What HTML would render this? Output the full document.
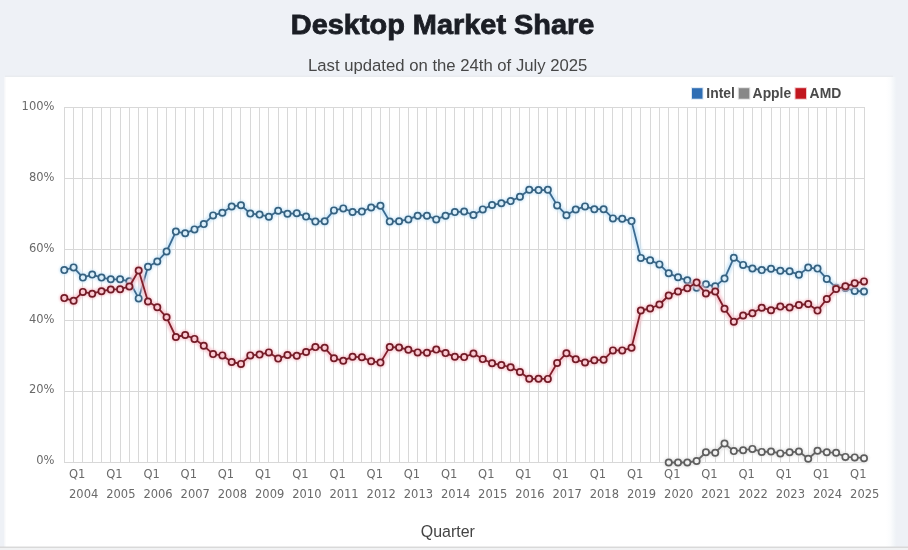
<!DOCTYPE html>
<html><head><meta charset="utf-8"><title>Desktop Market Share</title>
<style>
html,body{margin:0;padding:0;}
body{width:908px;height:550px;overflow:hidden;background:#eef1f6;position:relative;}
svg{position:absolute;left:0;top:0;}
</style></head><body>
<svg width="908" height="550" viewBox="0 0 908 550">
<defs><linearGradient id="rg" x1="0" x2="1" y1="0" y2="0"><stop offset="0" stop-color="#ffffff"/><stop offset="0.45" stop-color="#fbfcfd"/><stop offset="1" stop-color="#eef2f6"/></linearGradient><filter id="gl" x="-5%" y="-5%" width="110%" height="110%"><feGaussianBlur stdDeviation="1.3"/></filter></defs>
<rect x="0" y="0" width="908" height="550" fill="#eef1f6"/>
<rect x="0" y="546.5" width="908" height="3.5" fill="#f1f2f3"/>
<rect x="5" y="75.5" width="888" height="1.5" fill="#e9ecef"/>
<rect x="4" y="77" width="1" height="470" fill="#f6f7f9"/>
<rect x="5" y="77" width="1" height="470" fill="#fbfbfc"/>
<rect x="6" y="77" width="880" height="470" fill="#ffffff"/>
<rect x="886" y="77" width="10" height="470" fill="url(#rg)"/>
<rect x="0" y="546.6" width="908" height="1.2" fill="#d3d3d3"/>
<text x="290.8" y="33.8" textLength="303.6" lengthAdjust="spacingAndGlyphs" font-family="Liberation Sans, sans-serif" font-weight="bold" font-size="27" fill="#1b1e25" stroke="#1b1e25" stroke-width="0.8">Desktop Market Share</text>
<text x="447.7" y="71.2" text-anchor="middle" font-family="Liberation Sans, sans-serif" font-size="16.7" fill="#474747">Last updated on the 24th of July 2025</text>
<g stroke="#d8d8d8" stroke-width="1" shape-rendering="crispEdges"><line x1="64.5" y1="107" x2="64.5" y2="463"/><line x1="73.5" y1="107" x2="73.5" y2="463"/><line x1="82.5" y1="107" x2="82.5" y2="463"/><line x1="92.5" y1="107" x2="92.5" y2="463"/><line x1="101.5" y1="107" x2="101.5" y2="463"/><line x1="110.5" y1="107" x2="110.5" y2="463"/><line x1="120.5" y1="107" x2="120.5" y2="463"/><line x1="129.5" y1="107" x2="129.5" y2="463"/><line x1="138.5" y1="107" x2="138.5" y2="463"/><line x1="147.5" y1="107" x2="147.5" y2="463"/><line x1="157.5" y1="107" x2="157.5" y2="463"/><line x1="166.5" y1="107" x2="166.5" y2="463"/><line x1="175.5" y1="107" x2="175.5" y2="463"/><line x1="185.5" y1="107" x2="185.5" y2="463"/><line x1="194.5" y1="107" x2="194.5" y2="463"/><line x1="203.5" y1="107" x2="203.5" y2="463"/><line x1="213.5" y1="107" x2="213.5" y2="463"/><line x1="222.5" y1="107" x2="222.5" y2="463"/><line x1="231.5" y1="107" x2="231.5" y2="463"/><line x1="240.5" y1="107" x2="240.5" y2="463"/><line x1="250.5" y1="107" x2="250.5" y2="463"/><line x1="259.5" y1="107" x2="259.5" y2="463"/><line x1="268.5" y1="107" x2="268.5" y2="463"/><line x1="278.5" y1="107" x2="278.5" y2="463"/><line x1="287.5" y1="107" x2="287.5" y2="463"/><line x1="296.5" y1="107" x2="296.5" y2="463"/><line x1="306.5" y1="107" x2="306.5" y2="463"/><line x1="315.5" y1="107" x2="315.5" y2="463"/><line x1="324.5" y1="107" x2="324.5" y2="463"/><line x1="333.5" y1="107" x2="333.5" y2="463"/><line x1="343.5" y1="107" x2="343.5" y2="463"/><line x1="352.5" y1="107" x2="352.5" y2="463"/><line x1="361.5" y1="107" x2="361.5" y2="463"/><line x1="371.5" y1="107" x2="371.5" y2="463"/><line x1="380.5" y1="107" x2="380.5" y2="463"/><line x1="389.5" y1="107" x2="389.5" y2="463"/><line x1="399.5" y1="107" x2="399.5" y2="463"/><line x1="408.5" y1="107" x2="408.5" y2="463"/><line x1="417.5" y1="107" x2="417.5" y2="463"/><line x1="426.5" y1="107" x2="426.5" y2="463"/><line x1="436.5" y1="107" x2="436.5" y2="463"/><line x1="445.5" y1="107" x2="445.5" y2="463"/><line x1="454.5" y1="107" x2="454.5" y2="463"/><line x1="464.5" y1="107" x2="464.5" y2="463"/><line x1="473.5" y1="107" x2="473.5" y2="463"/><line x1="482.5" y1="107" x2="482.5" y2="463"/><line x1="492.5" y1="107" x2="492.5" y2="463"/><line x1="501.5" y1="107" x2="501.5" y2="463"/><line x1="510.5" y1="107" x2="510.5" y2="463"/><line x1="519.5" y1="107" x2="519.5" y2="463"/><line x1="529.5" y1="107" x2="529.5" y2="463"/><line x1="538.5" y1="107" x2="538.5" y2="463"/><line x1="547.5" y1="107" x2="547.5" y2="463"/><line x1="557.5" y1="107" x2="557.5" y2="463"/><line x1="566.5" y1="107" x2="566.5" y2="463"/><line x1="575.5" y1="107" x2="575.5" y2="463"/><line x1="585.5" y1="107" x2="585.5" y2="463"/><line x1="594.5" y1="107" x2="594.5" y2="463"/><line x1="603.5" y1="107" x2="603.5" y2="463"/><line x1="612.5" y1="107" x2="612.5" y2="463"/><line x1="622.5" y1="107" x2="622.5" y2="463"/><line x1="631.5" y1="107" x2="631.5" y2="463"/><line x1="640.5" y1="107" x2="640.5" y2="463"/><line x1="650.5" y1="107" x2="650.5" y2="463"/><line x1="659.5" y1="107" x2="659.5" y2="463"/><line x1="668.5" y1="107" x2="668.5" y2="463"/><line x1="678.5" y1="107" x2="678.5" y2="463"/><line x1="687.5" y1="107" x2="687.5" y2="463"/><line x1="696.5" y1="107" x2="696.5" y2="463"/><line x1="705.5" y1="107" x2="705.5" y2="463"/><line x1="715.5" y1="107" x2="715.5" y2="463"/><line x1="724.5" y1="107" x2="724.5" y2="463"/><line x1="733.5" y1="107" x2="733.5" y2="463"/><line x1="743.5" y1="107" x2="743.5" y2="463"/><line x1="752.5" y1="107" x2="752.5" y2="463"/><line x1="761.5" y1="107" x2="761.5" y2="463"/><line x1="771.5" y1="107" x2="771.5" y2="463"/><line x1="780.5" y1="107" x2="780.5" y2="463"/><line x1="789.5" y1="107" x2="789.5" y2="463"/><line x1="798.5" y1="107" x2="798.5" y2="463"/><line x1="808.5" y1="107" x2="808.5" y2="463"/><line x1="817.5" y1="107" x2="817.5" y2="463"/><line x1="826.5" y1="107" x2="826.5" y2="463"/><line x1="836.5" y1="107" x2="836.5" y2="463"/><line x1="845.5" y1="107" x2="845.5" y2="463"/><line x1="854.5" y1="107" x2="854.5" y2="463"/><line x1="864.5" y1="107" x2="864.5" y2="463"/><line x1="64" y1="462.5" x2="865" y2="462.5"/><line x1="64" y1="391.5" x2="865" y2="391.5"/><line x1="64" y1="320.5" x2="865" y2="320.5"/><line x1="64" y1="249.5" x2="865" y2="249.5"/><line x1="64" y1="178.5" x2="865" y2="178.5"/><line x1="64" y1="107.5" x2="865" y2="107.5"/></g>
<g font-family="DejaVu Sans, sans-serif" font-size="11.5" fill="#6a6a6a"><text x="54.5" y="464.4" text-anchor="end">0%</text><text x="54.5" y="393.4" text-anchor="end">20%</text><text x="54.5" y="322.5" text-anchor="end">40%</text><text x="54.5" y="251.5" text-anchor="end">60%</text><text x="54.5" y="180.6" text-anchor="end">80%</text><text x="54.5" y="109.6" text-anchor="end">100%</text></g>
<g font-family="DejaVu Sans, sans-serif" font-size="11.5" fill="#6a6a6a"><text x="69.0" y="477.5">Q1</text><text x="69.0" y="498">2004</text><text x="106.2" y="477.5">Q1</text><text x="106.2" y="498">2005</text><text x="143.4" y="477.5">Q1</text><text x="143.4" y="498">2006</text><text x="180.6" y="477.5">Q1</text><text x="180.6" y="498">2007</text><text x="217.8" y="477.5">Q1</text><text x="217.8" y="498">2008</text><text x="255.0" y="477.5">Q1</text><text x="255.0" y="498">2009</text><text x="292.2" y="477.5">Q1</text><text x="292.2" y="498">2010</text><text x="329.4" y="477.5">Q1</text><text x="329.4" y="498">2011</text><text x="366.6" y="477.5">Q1</text><text x="366.6" y="498">2012</text><text x="403.8" y="477.5">Q1</text><text x="403.8" y="498">2013</text><text x="441.0" y="477.5">Q1</text><text x="441.0" y="498">2014</text><text x="478.1" y="477.5">Q1</text><text x="478.1" y="498">2015</text><text x="515.3" y="477.5">Q1</text><text x="515.3" y="498">2016</text><text x="552.5" y="477.5">Q1</text><text x="552.5" y="498">2017</text><text x="589.7" y="477.5">Q1</text><text x="589.7" y="498">2018</text><text x="626.9" y="477.5">Q1</text><text x="626.9" y="498">2019</text><text x="664.1" y="477.5">Q1</text><text x="664.1" y="498">2020</text><text x="701.3" y="477.5">Q1</text><text x="701.3" y="498">2021</text><text x="738.5" y="477.5">Q1</text><text x="738.5" y="498">2022</text><text x="775.7" y="477.5">Q1</text><text x="775.7" y="498">2023</text><text x="812.9" y="477.5">Q1</text><text x="812.9" y="498">2024</text><text x="850.1" y="477.5">Q1</text><text x="850.1" y="498">2025</text></g>
<text x="447.8" y="536.5" text-anchor="middle" font-family="Liberation Sans, sans-serif" font-size="15.95" fill="#444">Quarter</text>
<g>
<g filter="url(#gl)" opacity="0.75"><polyline points="668.72,462.50 678.02,462.50 687.32,462.50 696.62,461.00 705.92,452.30 715.22,452.70 724.52,443.50 733.82,451.10 743.12,450.20 752.41,448.90 761.71,451.90 771.01,451.50 780.31,453.40 789.61,452.30 798.91,451.50 808.21,458.70 817.51,450.80 826.80,452.30 836.10,452.70 845.40,456.90 854.70,457.40 864.00,458.20" fill="none" stroke="#e2e2e2" stroke-width="6.5" stroke-linejoin="round" stroke-linecap="round"/><circle cx="668.72" cy="462.50" r="5.2" fill="#e2e2e2"/><circle cx="678.02" cy="462.50" r="5.2" fill="#e2e2e2"/><circle cx="687.32" cy="462.50" r="5.2" fill="#e2e2e2"/><circle cx="696.62" cy="461.00" r="5.2" fill="#e2e2e2"/><circle cx="705.92" cy="452.30" r="5.2" fill="#e2e2e2"/><circle cx="715.22" cy="452.70" r="5.2" fill="#e2e2e2"/><circle cx="724.52" cy="443.50" r="5.2" fill="#e2e2e2"/><circle cx="733.82" cy="451.10" r="5.2" fill="#e2e2e2"/><circle cx="743.12" cy="450.20" r="5.2" fill="#e2e2e2"/><circle cx="752.41" cy="448.90" r="5.2" fill="#e2e2e2"/><circle cx="761.71" cy="451.90" r="5.2" fill="#e2e2e2"/><circle cx="771.01" cy="451.50" r="5.2" fill="#e2e2e2"/><circle cx="780.31" cy="453.40" r="5.2" fill="#e2e2e2"/><circle cx="789.61" cy="452.30" r="5.2" fill="#e2e2e2"/><circle cx="798.91" cy="451.50" r="5.2" fill="#e2e2e2"/><circle cx="808.21" cy="458.70" r="5.2" fill="#e2e2e2"/><circle cx="817.51" cy="450.80" r="5.2" fill="#e2e2e2"/><circle cx="826.80" cy="452.30" r="5.2" fill="#e2e2e2"/><circle cx="836.10" cy="452.70" r="5.2" fill="#e2e2e2"/><circle cx="845.40" cy="456.90" r="5.2" fill="#e2e2e2"/><circle cx="854.70" cy="457.40" r="5.2" fill="#e2e2e2"/><circle cx="864.00" cy="458.20" r="5.2" fill="#e2e2e2"/></g>
<polyline points="668.72,462.50 678.02,462.50 687.32,462.50 696.62,461.00 705.92,452.30 715.22,452.70 724.52,443.50 733.82,451.10 743.12,450.20 752.41,448.90 761.71,451.90 771.01,451.50 780.31,453.40 789.61,452.30 798.91,451.50 808.21,458.70 817.51,450.80 826.80,452.30 836.10,452.70 845.40,456.90 854.70,457.40 864.00,458.20" fill="none" stroke="#666666" stroke-width="1.8" stroke-linejoin="round"/>
<circle cx="668.72" cy="462.50" r="3.15" fill="#f4f4f4" stroke="#5e5e5e" stroke-width="1.7"/><circle cx="678.02" cy="462.50" r="3.15" fill="#f4f4f4" stroke="#5e5e5e" stroke-width="1.7"/><circle cx="687.32" cy="462.50" r="3.15" fill="#f4f4f4" stroke="#5e5e5e" stroke-width="1.7"/><circle cx="696.62" cy="461.00" r="3.15" fill="#f4f4f4" stroke="#5e5e5e" stroke-width="1.7"/><circle cx="705.92" cy="452.30" r="3.15" fill="#f4f4f4" stroke="#5e5e5e" stroke-width="1.7"/><circle cx="715.22" cy="452.70" r="3.15" fill="#f4f4f4" stroke="#5e5e5e" stroke-width="1.7"/><circle cx="724.52" cy="443.50" r="3.15" fill="#f4f4f4" stroke="#5e5e5e" stroke-width="1.7"/><circle cx="733.82" cy="451.10" r="3.15" fill="#f4f4f4" stroke="#5e5e5e" stroke-width="1.7"/><circle cx="743.12" cy="450.20" r="3.15" fill="#f4f4f4" stroke="#5e5e5e" stroke-width="1.7"/><circle cx="752.41" cy="448.90" r="3.15" fill="#f4f4f4" stroke="#5e5e5e" stroke-width="1.7"/><circle cx="761.71" cy="451.90" r="3.15" fill="#f4f4f4" stroke="#5e5e5e" stroke-width="1.7"/><circle cx="771.01" cy="451.50" r="3.15" fill="#f4f4f4" stroke="#5e5e5e" stroke-width="1.7"/><circle cx="780.31" cy="453.40" r="3.15" fill="#f4f4f4" stroke="#5e5e5e" stroke-width="1.7"/><circle cx="789.61" cy="452.30" r="3.15" fill="#f4f4f4" stroke="#5e5e5e" stroke-width="1.7"/><circle cx="798.91" cy="451.50" r="3.15" fill="#f4f4f4" stroke="#5e5e5e" stroke-width="1.7"/><circle cx="808.21" cy="458.70" r="3.15" fill="#f4f4f4" stroke="#5e5e5e" stroke-width="1.7"/><circle cx="817.51" cy="450.80" r="3.15" fill="#f4f4f4" stroke="#5e5e5e" stroke-width="1.7"/><circle cx="826.80" cy="452.30" r="3.15" fill="#f4f4f4" stroke="#5e5e5e" stroke-width="1.7"/><circle cx="836.10" cy="452.70" r="3.15" fill="#f4f4f4" stroke="#5e5e5e" stroke-width="1.7"/><circle cx="845.40" cy="456.90" r="3.15" fill="#f4f4f4" stroke="#5e5e5e" stroke-width="1.7"/><circle cx="854.70" cy="457.40" r="3.15" fill="#f4f4f4" stroke="#5e5e5e" stroke-width="1.7"/><circle cx="864.00" cy="458.20" r="3.15" fill="#f4f4f4" stroke="#5e5e5e" stroke-width="1.7"/>

<g filter="url(#gl)" opacity="0.75"><polyline points="64.30,270.10 73.60,267.40 82.90,277.60 92.20,274.60 101.50,277.60 110.79,279.30 120.09,279.30 129.39,281.30 138.69,298.40 147.99,266.80 157.29,261.50 166.59,251.50 175.89,231.60 185.18,233.30 194.48,229.40 203.78,224.10 213.08,215.40 222.38,212.70 231.68,206.50 240.98,205.20 250.28,213.60 259.58,214.60 268.87,216.70 278.17,210.70 287.47,213.70 296.77,213.30 306.07,216.60 315.37,221.60 324.67,221.20 333.97,210.40 343.27,208.40 352.56,212.00 361.86,211.60 371.16,207.50 380.46,205.80 389.76,221.60 399.06,221.20 408.36,219.40 417.66,215.70 426.95,215.70 436.25,219.40 445.55,215.70 454.85,212.10 464.15,211.50 473.45,215.00 482.75,209.40 492.05,205.00 501.35,203.30 510.64,201.10 519.94,196.70 529.24,189.80 538.54,190.10 547.84,189.80 557.14,205.40 566.44,215.20 575.74,209.50 585.03,206.40 594.33,209.20 603.63,209.20 612.93,218.40 622.23,218.80 631.53,221.10 640.83,257.90 650.13,260.20 659.43,264.40 668.72,273.30 678.02,277.30 687.32,280.30 696.62,287.80 705.92,284.30 715.22,286.30 724.52,278.60 733.82,257.80 743.12,264.90 752.41,268.50 761.71,270.10 771.01,268.80 780.31,270.80 789.61,271.30 798.91,274.70 808.21,267.60 817.51,268.60 826.80,278.90 836.10,287.70 845.40,287.90 854.70,291.00 864.00,291.50" fill="none" stroke="#c9e6f9" stroke-width="6.5" stroke-linejoin="round" stroke-linecap="round"/><circle cx="64.30" cy="270.10" r="5.2" fill="#c9e6f9"/><circle cx="73.60" cy="267.40" r="5.2" fill="#c9e6f9"/><circle cx="82.90" cy="277.60" r="5.2" fill="#c9e6f9"/><circle cx="92.20" cy="274.60" r="5.2" fill="#c9e6f9"/><circle cx="101.50" cy="277.60" r="5.2" fill="#c9e6f9"/><circle cx="110.79" cy="279.30" r="5.2" fill="#c9e6f9"/><circle cx="120.09" cy="279.30" r="5.2" fill="#c9e6f9"/><circle cx="129.39" cy="281.30" r="5.2" fill="#c9e6f9"/><circle cx="138.69" cy="298.40" r="5.2" fill="#c9e6f9"/><circle cx="147.99" cy="266.80" r="5.2" fill="#c9e6f9"/><circle cx="157.29" cy="261.50" r="5.2" fill="#c9e6f9"/><circle cx="166.59" cy="251.50" r="5.2" fill="#c9e6f9"/><circle cx="175.89" cy="231.60" r="5.2" fill="#c9e6f9"/><circle cx="185.18" cy="233.30" r="5.2" fill="#c9e6f9"/><circle cx="194.48" cy="229.40" r="5.2" fill="#c9e6f9"/><circle cx="203.78" cy="224.10" r="5.2" fill="#c9e6f9"/><circle cx="213.08" cy="215.40" r="5.2" fill="#c9e6f9"/><circle cx="222.38" cy="212.70" r="5.2" fill="#c9e6f9"/><circle cx="231.68" cy="206.50" r="5.2" fill="#c9e6f9"/><circle cx="240.98" cy="205.20" r="5.2" fill="#c9e6f9"/><circle cx="250.28" cy="213.60" r="5.2" fill="#c9e6f9"/><circle cx="259.58" cy="214.60" r="5.2" fill="#c9e6f9"/><circle cx="268.87" cy="216.70" r="5.2" fill="#c9e6f9"/><circle cx="278.17" cy="210.70" r="5.2" fill="#c9e6f9"/><circle cx="287.47" cy="213.70" r="5.2" fill="#c9e6f9"/><circle cx="296.77" cy="213.30" r="5.2" fill="#c9e6f9"/><circle cx="306.07" cy="216.60" r="5.2" fill="#c9e6f9"/><circle cx="315.37" cy="221.60" r="5.2" fill="#c9e6f9"/><circle cx="324.67" cy="221.20" r="5.2" fill="#c9e6f9"/><circle cx="333.97" cy="210.40" r="5.2" fill="#c9e6f9"/><circle cx="343.27" cy="208.40" r="5.2" fill="#c9e6f9"/><circle cx="352.56" cy="212.00" r="5.2" fill="#c9e6f9"/><circle cx="361.86" cy="211.60" r="5.2" fill="#c9e6f9"/><circle cx="371.16" cy="207.50" r="5.2" fill="#c9e6f9"/><circle cx="380.46" cy="205.80" r="5.2" fill="#c9e6f9"/><circle cx="389.76" cy="221.60" r="5.2" fill="#c9e6f9"/><circle cx="399.06" cy="221.20" r="5.2" fill="#c9e6f9"/><circle cx="408.36" cy="219.40" r="5.2" fill="#c9e6f9"/><circle cx="417.66" cy="215.70" r="5.2" fill="#c9e6f9"/><circle cx="426.95" cy="215.70" r="5.2" fill="#c9e6f9"/><circle cx="436.25" cy="219.40" r="5.2" fill="#c9e6f9"/><circle cx="445.55" cy="215.70" r="5.2" fill="#c9e6f9"/><circle cx="454.85" cy="212.10" r="5.2" fill="#c9e6f9"/><circle cx="464.15" cy="211.50" r="5.2" fill="#c9e6f9"/><circle cx="473.45" cy="215.00" r="5.2" fill="#c9e6f9"/><circle cx="482.75" cy="209.40" r="5.2" fill="#c9e6f9"/><circle cx="492.05" cy="205.00" r="5.2" fill="#c9e6f9"/><circle cx="501.35" cy="203.30" r="5.2" fill="#c9e6f9"/><circle cx="510.64" cy="201.10" r="5.2" fill="#c9e6f9"/><circle cx="519.94" cy="196.70" r="5.2" fill="#c9e6f9"/><circle cx="529.24" cy="189.80" r="5.2" fill="#c9e6f9"/><circle cx="538.54" cy="190.10" r="5.2" fill="#c9e6f9"/><circle cx="547.84" cy="189.80" r="5.2" fill="#c9e6f9"/><circle cx="557.14" cy="205.40" r="5.2" fill="#c9e6f9"/><circle cx="566.44" cy="215.20" r="5.2" fill="#c9e6f9"/><circle cx="575.74" cy="209.50" r="5.2" fill="#c9e6f9"/><circle cx="585.03" cy="206.40" r="5.2" fill="#c9e6f9"/><circle cx="594.33" cy="209.20" r="5.2" fill="#c9e6f9"/><circle cx="603.63" cy="209.20" r="5.2" fill="#c9e6f9"/><circle cx="612.93" cy="218.40" r="5.2" fill="#c9e6f9"/><circle cx="622.23" cy="218.80" r="5.2" fill="#c9e6f9"/><circle cx="631.53" cy="221.10" r="5.2" fill="#c9e6f9"/><circle cx="640.83" cy="257.90" r="5.2" fill="#c9e6f9"/><circle cx="650.13" cy="260.20" r="5.2" fill="#c9e6f9"/><circle cx="659.43" cy="264.40" r="5.2" fill="#c9e6f9"/><circle cx="668.72" cy="273.30" r="5.2" fill="#c9e6f9"/><circle cx="678.02" cy="277.30" r="5.2" fill="#c9e6f9"/><circle cx="687.32" cy="280.30" r="5.2" fill="#c9e6f9"/><circle cx="696.62" cy="287.80" r="5.2" fill="#c9e6f9"/><circle cx="705.92" cy="284.30" r="5.2" fill="#c9e6f9"/><circle cx="715.22" cy="286.30" r="5.2" fill="#c9e6f9"/><circle cx="724.52" cy="278.60" r="5.2" fill="#c9e6f9"/><circle cx="733.82" cy="257.80" r="5.2" fill="#c9e6f9"/><circle cx="743.12" cy="264.90" r="5.2" fill="#c9e6f9"/><circle cx="752.41" cy="268.50" r="5.2" fill="#c9e6f9"/><circle cx="761.71" cy="270.10" r="5.2" fill="#c9e6f9"/><circle cx="771.01" cy="268.80" r="5.2" fill="#c9e6f9"/><circle cx="780.31" cy="270.80" r="5.2" fill="#c9e6f9"/><circle cx="789.61" cy="271.30" r="5.2" fill="#c9e6f9"/><circle cx="798.91" cy="274.70" r="5.2" fill="#c9e6f9"/><circle cx="808.21" cy="267.60" r="5.2" fill="#c9e6f9"/><circle cx="817.51" cy="268.60" r="5.2" fill="#c9e6f9"/><circle cx="826.80" cy="278.90" r="5.2" fill="#c9e6f9"/><circle cx="836.10" cy="287.70" r="5.2" fill="#c9e6f9"/><circle cx="845.40" cy="287.90" r="5.2" fill="#c9e6f9"/><circle cx="854.70" cy="291.00" r="5.2" fill="#c9e6f9"/><circle cx="864.00" cy="291.50" r="5.2" fill="#c9e6f9"/></g>
<polyline points="64.30,270.10 73.60,267.40 82.90,277.60 92.20,274.60 101.50,277.60 110.79,279.30 120.09,279.30 129.39,281.30 138.69,298.40 147.99,266.80 157.29,261.50 166.59,251.50 175.89,231.60 185.18,233.30 194.48,229.40 203.78,224.10 213.08,215.40 222.38,212.70 231.68,206.50 240.98,205.20 250.28,213.60 259.58,214.60 268.87,216.70 278.17,210.70 287.47,213.70 296.77,213.30 306.07,216.60 315.37,221.60 324.67,221.20 333.97,210.40 343.27,208.40 352.56,212.00 361.86,211.60 371.16,207.50 380.46,205.80 389.76,221.60 399.06,221.20 408.36,219.40 417.66,215.70 426.95,215.70 436.25,219.40 445.55,215.70 454.85,212.10 464.15,211.50 473.45,215.00 482.75,209.40 492.05,205.00 501.35,203.30 510.64,201.10 519.94,196.70 529.24,189.80 538.54,190.10 547.84,189.80 557.14,205.40 566.44,215.20 575.74,209.50 585.03,206.40 594.33,209.20 603.63,209.20 612.93,218.40 622.23,218.80 631.53,221.10 640.83,257.90 650.13,260.20 659.43,264.40 668.72,273.30 678.02,277.30 687.32,280.30 696.62,287.80 705.92,284.30 715.22,286.30 724.52,278.60 733.82,257.80 743.12,264.90 752.41,268.50 761.71,270.10 771.01,268.80 780.31,270.80 789.61,271.30 798.91,274.70 808.21,267.60 817.51,268.60 826.80,278.90 836.10,287.70 845.40,287.90 854.70,291.00 864.00,291.50" fill="none" stroke="#3c6a90" stroke-width="1.8" stroke-linejoin="round"/>
<circle cx="64.30" cy="270.10" r="3.15" fill="#d9effc" stroke="#36617f" stroke-width="1.7"/><circle cx="73.60" cy="267.40" r="3.15" fill="#d9effc" stroke="#36617f" stroke-width="1.7"/><circle cx="82.90" cy="277.60" r="3.15" fill="#d9effc" stroke="#36617f" stroke-width="1.7"/><circle cx="92.20" cy="274.60" r="3.15" fill="#d9effc" stroke="#36617f" stroke-width="1.7"/><circle cx="101.50" cy="277.60" r="3.15" fill="#d9effc" stroke="#36617f" stroke-width="1.7"/><circle cx="110.79" cy="279.30" r="3.15" fill="#d9effc" stroke="#36617f" stroke-width="1.7"/><circle cx="120.09" cy="279.30" r="3.15" fill="#d9effc" stroke="#36617f" stroke-width="1.7"/><circle cx="129.39" cy="281.30" r="3.15" fill="#d9effc" stroke="#36617f" stroke-width="1.7"/><circle cx="138.69" cy="298.40" r="3.15" fill="#d9effc" stroke="#36617f" stroke-width="1.7"/><circle cx="147.99" cy="266.80" r="3.15" fill="#d9effc" stroke="#36617f" stroke-width="1.7"/><circle cx="157.29" cy="261.50" r="3.15" fill="#d9effc" stroke="#36617f" stroke-width="1.7"/><circle cx="166.59" cy="251.50" r="3.15" fill="#d9effc" stroke="#36617f" stroke-width="1.7"/><circle cx="175.89" cy="231.60" r="3.15" fill="#d9effc" stroke="#36617f" stroke-width="1.7"/><circle cx="185.18" cy="233.30" r="3.15" fill="#d9effc" stroke="#36617f" stroke-width="1.7"/><circle cx="194.48" cy="229.40" r="3.15" fill="#d9effc" stroke="#36617f" stroke-width="1.7"/><circle cx="203.78" cy="224.10" r="3.15" fill="#d9effc" stroke="#36617f" stroke-width="1.7"/><circle cx="213.08" cy="215.40" r="3.15" fill="#d9effc" stroke="#36617f" stroke-width="1.7"/><circle cx="222.38" cy="212.70" r="3.15" fill="#d9effc" stroke="#36617f" stroke-width="1.7"/><circle cx="231.68" cy="206.50" r="3.15" fill="#d9effc" stroke="#36617f" stroke-width="1.7"/><circle cx="240.98" cy="205.20" r="3.15" fill="#d9effc" stroke="#36617f" stroke-width="1.7"/><circle cx="250.28" cy="213.60" r="3.15" fill="#d9effc" stroke="#36617f" stroke-width="1.7"/><circle cx="259.58" cy="214.60" r="3.15" fill="#d9effc" stroke="#36617f" stroke-width="1.7"/><circle cx="268.87" cy="216.70" r="3.15" fill="#d9effc" stroke="#36617f" stroke-width="1.7"/><circle cx="278.17" cy="210.70" r="3.15" fill="#d9effc" stroke="#36617f" stroke-width="1.7"/><circle cx="287.47" cy="213.70" r="3.15" fill="#d9effc" stroke="#36617f" stroke-width="1.7"/><circle cx="296.77" cy="213.30" r="3.15" fill="#d9effc" stroke="#36617f" stroke-width="1.7"/><circle cx="306.07" cy="216.60" r="3.15" fill="#d9effc" stroke="#36617f" stroke-width="1.7"/><circle cx="315.37" cy="221.60" r="3.15" fill="#d9effc" stroke="#36617f" stroke-width="1.7"/><circle cx="324.67" cy="221.20" r="3.15" fill="#d9effc" stroke="#36617f" stroke-width="1.7"/><circle cx="333.97" cy="210.40" r="3.15" fill="#d9effc" stroke="#36617f" stroke-width="1.7"/><circle cx="343.27" cy="208.40" r="3.15" fill="#d9effc" stroke="#36617f" stroke-width="1.7"/><circle cx="352.56" cy="212.00" r="3.15" fill="#d9effc" stroke="#36617f" stroke-width="1.7"/><circle cx="361.86" cy="211.60" r="3.15" fill="#d9effc" stroke="#36617f" stroke-width="1.7"/><circle cx="371.16" cy="207.50" r="3.15" fill="#d9effc" stroke="#36617f" stroke-width="1.7"/><circle cx="380.46" cy="205.80" r="3.15" fill="#d9effc" stroke="#36617f" stroke-width="1.7"/><circle cx="389.76" cy="221.60" r="3.15" fill="#d9effc" stroke="#36617f" stroke-width="1.7"/><circle cx="399.06" cy="221.20" r="3.15" fill="#d9effc" stroke="#36617f" stroke-width="1.7"/><circle cx="408.36" cy="219.40" r="3.15" fill="#d9effc" stroke="#36617f" stroke-width="1.7"/><circle cx="417.66" cy="215.70" r="3.15" fill="#d9effc" stroke="#36617f" stroke-width="1.7"/><circle cx="426.95" cy="215.70" r="3.15" fill="#d9effc" stroke="#36617f" stroke-width="1.7"/><circle cx="436.25" cy="219.40" r="3.15" fill="#d9effc" stroke="#36617f" stroke-width="1.7"/><circle cx="445.55" cy="215.70" r="3.15" fill="#d9effc" stroke="#36617f" stroke-width="1.7"/><circle cx="454.85" cy="212.10" r="3.15" fill="#d9effc" stroke="#36617f" stroke-width="1.7"/><circle cx="464.15" cy="211.50" r="3.15" fill="#d9effc" stroke="#36617f" stroke-width="1.7"/><circle cx="473.45" cy="215.00" r="3.15" fill="#d9effc" stroke="#36617f" stroke-width="1.7"/><circle cx="482.75" cy="209.40" r="3.15" fill="#d9effc" stroke="#36617f" stroke-width="1.7"/><circle cx="492.05" cy="205.00" r="3.15" fill="#d9effc" stroke="#36617f" stroke-width="1.7"/><circle cx="501.35" cy="203.30" r="3.15" fill="#d9effc" stroke="#36617f" stroke-width="1.7"/><circle cx="510.64" cy="201.10" r="3.15" fill="#d9effc" stroke="#36617f" stroke-width="1.7"/><circle cx="519.94" cy="196.70" r="3.15" fill="#d9effc" stroke="#36617f" stroke-width="1.7"/><circle cx="529.24" cy="189.80" r="3.15" fill="#d9effc" stroke="#36617f" stroke-width="1.7"/><circle cx="538.54" cy="190.10" r="3.15" fill="#d9effc" stroke="#36617f" stroke-width="1.7"/><circle cx="547.84" cy="189.80" r="3.15" fill="#d9effc" stroke="#36617f" stroke-width="1.7"/><circle cx="557.14" cy="205.40" r="3.15" fill="#d9effc" stroke="#36617f" stroke-width="1.7"/><circle cx="566.44" cy="215.20" r="3.15" fill="#d9effc" stroke="#36617f" stroke-width="1.7"/><circle cx="575.74" cy="209.50" r="3.15" fill="#d9effc" stroke="#36617f" stroke-width="1.7"/><circle cx="585.03" cy="206.40" r="3.15" fill="#d9effc" stroke="#36617f" stroke-width="1.7"/><circle cx="594.33" cy="209.20" r="3.15" fill="#d9effc" stroke="#36617f" stroke-width="1.7"/><circle cx="603.63" cy="209.20" r="3.15" fill="#d9effc" stroke="#36617f" stroke-width="1.7"/><circle cx="612.93" cy="218.40" r="3.15" fill="#d9effc" stroke="#36617f" stroke-width="1.7"/><circle cx="622.23" cy="218.80" r="3.15" fill="#d9effc" stroke="#36617f" stroke-width="1.7"/><circle cx="631.53" cy="221.10" r="3.15" fill="#d9effc" stroke="#36617f" stroke-width="1.7"/><circle cx="640.83" cy="257.90" r="3.15" fill="#d9effc" stroke="#36617f" stroke-width="1.7"/><circle cx="650.13" cy="260.20" r="3.15" fill="#d9effc" stroke="#36617f" stroke-width="1.7"/><circle cx="659.43" cy="264.40" r="3.15" fill="#d9effc" stroke="#36617f" stroke-width="1.7"/><circle cx="668.72" cy="273.30" r="3.15" fill="#d9effc" stroke="#36617f" stroke-width="1.7"/><circle cx="678.02" cy="277.30" r="3.15" fill="#d9effc" stroke="#36617f" stroke-width="1.7"/><circle cx="687.32" cy="280.30" r="3.15" fill="#d9effc" stroke="#36617f" stroke-width="1.7"/><circle cx="696.62" cy="287.80" r="3.15" fill="#d9effc" stroke="#36617f" stroke-width="1.7"/><circle cx="705.92" cy="284.30" r="3.15" fill="#d9effc" stroke="#36617f" stroke-width="1.7"/><circle cx="715.22" cy="286.30" r="3.15" fill="#d9effc" stroke="#36617f" stroke-width="1.7"/><circle cx="724.52" cy="278.60" r="3.15" fill="#d9effc" stroke="#36617f" stroke-width="1.7"/><circle cx="733.82" cy="257.80" r="3.15" fill="#d9effc" stroke="#36617f" stroke-width="1.7"/><circle cx="743.12" cy="264.90" r="3.15" fill="#d9effc" stroke="#36617f" stroke-width="1.7"/><circle cx="752.41" cy="268.50" r="3.15" fill="#d9effc" stroke="#36617f" stroke-width="1.7"/><circle cx="761.71" cy="270.10" r="3.15" fill="#d9effc" stroke="#36617f" stroke-width="1.7"/><circle cx="771.01" cy="268.80" r="3.15" fill="#d9effc" stroke="#36617f" stroke-width="1.7"/><circle cx="780.31" cy="270.80" r="3.15" fill="#d9effc" stroke="#36617f" stroke-width="1.7"/><circle cx="789.61" cy="271.30" r="3.15" fill="#d9effc" stroke="#36617f" stroke-width="1.7"/><circle cx="798.91" cy="274.70" r="3.15" fill="#d9effc" stroke="#36617f" stroke-width="1.7"/><circle cx="808.21" cy="267.60" r="3.15" fill="#d9effc" stroke="#36617f" stroke-width="1.7"/><circle cx="817.51" cy="268.60" r="3.15" fill="#d9effc" stroke="#36617f" stroke-width="1.7"/><circle cx="826.80" cy="278.90" r="3.15" fill="#d9effc" stroke="#36617f" stroke-width="1.7"/><circle cx="836.10" cy="287.70" r="3.15" fill="#d9effc" stroke="#36617f" stroke-width="1.7"/><circle cx="845.40" cy="287.90" r="3.15" fill="#d9effc" stroke="#36617f" stroke-width="1.7"/><circle cx="854.70" cy="291.00" r="3.15" fill="#d9effc" stroke="#36617f" stroke-width="1.7"/><circle cx="864.00" cy="291.50" r="3.15" fill="#d9effc" stroke="#36617f" stroke-width="1.7"/>

<g filter="url(#gl)" opacity="0.75"><polyline points="64.30,298.10 73.60,300.80 82.90,291.90 92.20,293.70 101.50,291.20 110.79,289.50 120.09,289.20 129.39,286.50 138.69,270.50 147.99,301.50 157.29,307.20 166.59,317.30 175.89,337.00 185.18,335.00 194.48,338.90 203.78,345.80 213.08,354.10 222.38,355.40 231.68,362.00 240.98,363.90 250.28,355.40 259.58,354.60 268.87,352.40 278.17,358.60 287.47,355.00 296.77,355.70 306.07,352.00 315.37,347.10 324.67,347.80 333.97,358.30 343.27,360.70 352.56,356.70 361.86,357.30 371.16,361.20 380.46,362.60 389.76,347.10 399.06,347.50 408.36,349.70 417.66,352.40 426.95,352.80 436.25,349.60 445.55,353.10 454.85,356.70 464.15,357.10 473.45,353.50 482.75,359.10 492.05,363.30 501.35,365.00 510.64,367.30 519.94,372.00 529.24,378.80 538.54,378.80 547.84,378.90 557.14,363.00 566.44,353.20 575.74,359.30 585.03,362.50 594.33,360.20 603.63,359.80 612.93,350.40 622.23,350.40 631.53,347.80 640.83,310.50 650.13,308.50 659.43,304.50 668.72,295.50 678.02,291.50 687.32,288.20 696.62,282.60 705.92,293.50 715.22,291.50 724.52,308.70 733.82,321.70 743.12,315.50 752.41,313.20 761.71,307.80 771.01,310.20 780.31,306.60 789.61,307.50 798.91,305.00 808.21,304.00 817.51,310.60 826.80,299.00 836.10,289.00 845.40,286.30 854.70,283.30 864.00,281.40" fill="none" stroke="#f6bfc9" stroke-width="6.5" stroke-linejoin="round" stroke-linecap="round"/><circle cx="64.30" cy="298.10" r="5.2" fill="#f6bfc9"/><circle cx="73.60" cy="300.80" r="5.2" fill="#f6bfc9"/><circle cx="82.90" cy="291.90" r="5.2" fill="#f6bfc9"/><circle cx="92.20" cy="293.70" r="5.2" fill="#f6bfc9"/><circle cx="101.50" cy="291.20" r="5.2" fill="#f6bfc9"/><circle cx="110.79" cy="289.50" r="5.2" fill="#f6bfc9"/><circle cx="120.09" cy="289.20" r="5.2" fill="#f6bfc9"/><circle cx="129.39" cy="286.50" r="5.2" fill="#f6bfc9"/><circle cx="138.69" cy="270.50" r="5.2" fill="#f6bfc9"/><circle cx="147.99" cy="301.50" r="5.2" fill="#f6bfc9"/><circle cx="157.29" cy="307.20" r="5.2" fill="#f6bfc9"/><circle cx="166.59" cy="317.30" r="5.2" fill="#f6bfc9"/><circle cx="175.89" cy="337.00" r="5.2" fill="#f6bfc9"/><circle cx="185.18" cy="335.00" r="5.2" fill="#f6bfc9"/><circle cx="194.48" cy="338.90" r="5.2" fill="#f6bfc9"/><circle cx="203.78" cy="345.80" r="5.2" fill="#f6bfc9"/><circle cx="213.08" cy="354.10" r="5.2" fill="#f6bfc9"/><circle cx="222.38" cy="355.40" r="5.2" fill="#f6bfc9"/><circle cx="231.68" cy="362.00" r="5.2" fill="#f6bfc9"/><circle cx="240.98" cy="363.90" r="5.2" fill="#f6bfc9"/><circle cx="250.28" cy="355.40" r="5.2" fill="#f6bfc9"/><circle cx="259.58" cy="354.60" r="5.2" fill="#f6bfc9"/><circle cx="268.87" cy="352.40" r="5.2" fill="#f6bfc9"/><circle cx="278.17" cy="358.60" r="5.2" fill="#f6bfc9"/><circle cx="287.47" cy="355.00" r="5.2" fill="#f6bfc9"/><circle cx="296.77" cy="355.70" r="5.2" fill="#f6bfc9"/><circle cx="306.07" cy="352.00" r="5.2" fill="#f6bfc9"/><circle cx="315.37" cy="347.10" r="5.2" fill="#f6bfc9"/><circle cx="324.67" cy="347.80" r="5.2" fill="#f6bfc9"/><circle cx="333.97" cy="358.30" r="5.2" fill="#f6bfc9"/><circle cx="343.27" cy="360.70" r="5.2" fill="#f6bfc9"/><circle cx="352.56" cy="356.70" r="5.2" fill="#f6bfc9"/><circle cx="361.86" cy="357.30" r="5.2" fill="#f6bfc9"/><circle cx="371.16" cy="361.20" r="5.2" fill="#f6bfc9"/><circle cx="380.46" cy="362.60" r="5.2" fill="#f6bfc9"/><circle cx="389.76" cy="347.10" r="5.2" fill="#f6bfc9"/><circle cx="399.06" cy="347.50" r="5.2" fill="#f6bfc9"/><circle cx="408.36" cy="349.70" r="5.2" fill="#f6bfc9"/><circle cx="417.66" cy="352.40" r="5.2" fill="#f6bfc9"/><circle cx="426.95" cy="352.80" r="5.2" fill="#f6bfc9"/><circle cx="436.25" cy="349.60" r="5.2" fill="#f6bfc9"/><circle cx="445.55" cy="353.10" r="5.2" fill="#f6bfc9"/><circle cx="454.85" cy="356.70" r="5.2" fill="#f6bfc9"/><circle cx="464.15" cy="357.10" r="5.2" fill="#f6bfc9"/><circle cx="473.45" cy="353.50" r="5.2" fill="#f6bfc9"/><circle cx="482.75" cy="359.10" r="5.2" fill="#f6bfc9"/><circle cx="492.05" cy="363.30" r="5.2" fill="#f6bfc9"/><circle cx="501.35" cy="365.00" r="5.2" fill="#f6bfc9"/><circle cx="510.64" cy="367.30" r="5.2" fill="#f6bfc9"/><circle cx="519.94" cy="372.00" r="5.2" fill="#f6bfc9"/><circle cx="529.24" cy="378.80" r="5.2" fill="#f6bfc9"/><circle cx="538.54" cy="378.80" r="5.2" fill="#f6bfc9"/><circle cx="547.84" cy="378.90" r="5.2" fill="#f6bfc9"/><circle cx="557.14" cy="363.00" r="5.2" fill="#f6bfc9"/><circle cx="566.44" cy="353.20" r="5.2" fill="#f6bfc9"/><circle cx="575.74" cy="359.30" r="5.2" fill="#f6bfc9"/><circle cx="585.03" cy="362.50" r="5.2" fill="#f6bfc9"/><circle cx="594.33" cy="360.20" r="5.2" fill="#f6bfc9"/><circle cx="603.63" cy="359.80" r="5.2" fill="#f6bfc9"/><circle cx="612.93" cy="350.40" r="5.2" fill="#f6bfc9"/><circle cx="622.23" cy="350.40" r="5.2" fill="#f6bfc9"/><circle cx="631.53" cy="347.80" r="5.2" fill="#f6bfc9"/><circle cx="640.83" cy="310.50" r="5.2" fill="#f6bfc9"/><circle cx="650.13" cy="308.50" r="5.2" fill="#f6bfc9"/><circle cx="659.43" cy="304.50" r="5.2" fill="#f6bfc9"/><circle cx="668.72" cy="295.50" r="5.2" fill="#f6bfc9"/><circle cx="678.02" cy="291.50" r="5.2" fill="#f6bfc9"/><circle cx="687.32" cy="288.20" r="5.2" fill="#f6bfc9"/><circle cx="696.62" cy="282.60" r="5.2" fill="#f6bfc9"/><circle cx="705.92" cy="293.50" r="5.2" fill="#f6bfc9"/><circle cx="715.22" cy="291.50" r="5.2" fill="#f6bfc9"/><circle cx="724.52" cy="308.70" r="5.2" fill="#f6bfc9"/><circle cx="733.82" cy="321.70" r="5.2" fill="#f6bfc9"/><circle cx="743.12" cy="315.50" r="5.2" fill="#f6bfc9"/><circle cx="752.41" cy="313.20" r="5.2" fill="#f6bfc9"/><circle cx="761.71" cy="307.80" r="5.2" fill="#f6bfc9"/><circle cx="771.01" cy="310.20" r="5.2" fill="#f6bfc9"/><circle cx="780.31" cy="306.60" r="5.2" fill="#f6bfc9"/><circle cx="789.61" cy="307.50" r="5.2" fill="#f6bfc9"/><circle cx="798.91" cy="305.00" r="5.2" fill="#f6bfc9"/><circle cx="808.21" cy="304.00" r="5.2" fill="#f6bfc9"/><circle cx="817.51" cy="310.60" r="5.2" fill="#f6bfc9"/><circle cx="826.80" cy="299.00" r="5.2" fill="#f6bfc9"/><circle cx="836.10" cy="289.00" r="5.2" fill="#f6bfc9"/><circle cx="845.40" cy="286.30" r="5.2" fill="#f6bfc9"/><circle cx="854.70" cy="283.30" r="5.2" fill="#f6bfc9"/><circle cx="864.00" cy="281.40" r="5.2" fill="#f6bfc9"/></g>
<polyline points="64.30,298.10 73.60,300.80 82.90,291.90 92.20,293.70 101.50,291.20 110.79,289.50 120.09,289.20 129.39,286.50 138.69,270.50 147.99,301.50 157.29,307.20 166.59,317.30 175.89,337.00 185.18,335.00 194.48,338.90 203.78,345.80 213.08,354.10 222.38,355.40 231.68,362.00 240.98,363.90 250.28,355.40 259.58,354.60 268.87,352.40 278.17,358.60 287.47,355.00 296.77,355.70 306.07,352.00 315.37,347.10 324.67,347.80 333.97,358.30 343.27,360.70 352.56,356.70 361.86,357.30 371.16,361.20 380.46,362.60 389.76,347.10 399.06,347.50 408.36,349.70 417.66,352.40 426.95,352.80 436.25,349.60 445.55,353.10 454.85,356.70 464.15,357.10 473.45,353.50 482.75,359.10 492.05,363.30 501.35,365.00 510.64,367.30 519.94,372.00 529.24,378.80 538.54,378.80 547.84,378.90 557.14,363.00 566.44,353.20 575.74,359.30 585.03,362.50 594.33,360.20 603.63,359.80 612.93,350.40 622.23,350.40 631.53,347.80 640.83,310.50 650.13,308.50 659.43,304.50 668.72,295.50 678.02,291.50 687.32,288.20 696.62,282.60 705.92,293.50 715.22,291.50 724.52,308.70 733.82,321.70 743.12,315.50 752.41,313.20 761.71,307.80 771.01,310.20 780.31,306.60 789.61,307.50 798.91,305.00 808.21,304.00 817.51,310.60 826.80,299.00 836.10,289.00 845.40,286.30 854.70,283.30 864.00,281.40" fill="none" stroke="#821f2b" stroke-width="1.8" stroke-linejoin="round"/>
<circle cx="64.30" cy="298.10" r="3.15" fill="#fbc9d2" stroke="#721c27" stroke-width="1.7"/><circle cx="73.60" cy="300.80" r="3.15" fill="#fbc9d2" stroke="#721c27" stroke-width="1.7"/><circle cx="82.90" cy="291.90" r="3.15" fill="#fbc9d2" stroke="#721c27" stroke-width="1.7"/><circle cx="92.20" cy="293.70" r="3.15" fill="#fbc9d2" stroke="#721c27" stroke-width="1.7"/><circle cx="101.50" cy="291.20" r="3.15" fill="#fbc9d2" stroke="#721c27" stroke-width="1.7"/><circle cx="110.79" cy="289.50" r="3.15" fill="#fbc9d2" stroke="#721c27" stroke-width="1.7"/><circle cx="120.09" cy="289.20" r="3.15" fill="#fbc9d2" stroke="#721c27" stroke-width="1.7"/><circle cx="129.39" cy="286.50" r="3.15" fill="#fbc9d2" stroke="#721c27" stroke-width="1.7"/><circle cx="138.69" cy="270.50" r="3.15" fill="#fbc9d2" stroke="#721c27" stroke-width="1.7"/><circle cx="147.99" cy="301.50" r="3.15" fill="#fbc9d2" stroke="#721c27" stroke-width="1.7"/><circle cx="157.29" cy="307.20" r="3.15" fill="#fbc9d2" stroke="#721c27" stroke-width="1.7"/><circle cx="166.59" cy="317.30" r="3.15" fill="#fbc9d2" stroke="#721c27" stroke-width="1.7"/><circle cx="175.89" cy="337.00" r="3.15" fill="#fbc9d2" stroke="#721c27" stroke-width="1.7"/><circle cx="185.18" cy="335.00" r="3.15" fill="#fbc9d2" stroke="#721c27" stroke-width="1.7"/><circle cx="194.48" cy="338.90" r="3.15" fill="#fbc9d2" stroke="#721c27" stroke-width="1.7"/><circle cx="203.78" cy="345.80" r="3.15" fill="#fbc9d2" stroke="#721c27" stroke-width="1.7"/><circle cx="213.08" cy="354.10" r="3.15" fill="#fbc9d2" stroke="#721c27" stroke-width="1.7"/><circle cx="222.38" cy="355.40" r="3.15" fill="#fbc9d2" stroke="#721c27" stroke-width="1.7"/><circle cx="231.68" cy="362.00" r="3.15" fill="#fbc9d2" stroke="#721c27" stroke-width="1.7"/><circle cx="240.98" cy="363.90" r="3.15" fill="#fbc9d2" stroke="#721c27" stroke-width="1.7"/><circle cx="250.28" cy="355.40" r="3.15" fill="#fbc9d2" stroke="#721c27" stroke-width="1.7"/><circle cx="259.58" cy="354.60" r="3.15" fill="#fbc9d2" stroke="#721c27" stroke-width="1.7"/><circle cx="268.87" cy="352.40" r="3.15" fill="#fbc9d2" stroke="#721c27" stroke-width="1.7"/><circle cx="278.17" cy="358.60" r="3.15" fill="#fbc9d2" stroke="#721c27" stroke-width="1.7"/><circle cx="287.47" cy="355.00" r="3.15" fill="#fbc9d2" stroke="#721c27" stroke-width="1.7"/><circle cx="296.77" cy="355.70" r="3.15" fill="#fbc9d2" stroke="#721c27" stroke-width="1.7"/><circle cx="306.07" cy="352.00" r="3.15" fill="#fbc9d2" stroke="#721c27" stroke-width="1.7"/><circle cx="315.37" cy="347.10" r="3.15" fill="#fbc9d2" stroke="#721c27" stroke-width="1.7"/><circle cx="324.67" cy="347.80" r="3.15" fill="#fbc9d2" stroke="#721c27" stroke-width="1.7"/><circle cx="333.97" cy="358.30" r="3.15" fill="#fbc9d2" stroke="#721c27" stroke-width="1.7"/><circle cx="343.27" cy="360.70" r="3.15" fill="#fbc9d2" stroke="#721c27" stroke-width="1.7"/><circle cx="352.56" cy="356.70" r="3.15" fill="#fbc9d2" stroke="#721c27" stroke-width="1.7"/><circle cx="361.86" cy="357.30" r="3.15" fill="#fbc9d2" stroke="#721c27" stroke-width="1.7"/><circle cx="371.16" cy="361.20" r="3.15" fill="#fbc9d2" stroke="#721c27" stroke-width="1.7"/><circle cx="380.46" cy="362.60" r="3.15" fill="#fbc9d2" stroke="#721c27" stroke-width="1.7"/><circle cx="389.76" cy="347.10" r="3.15" fill="#fbc9d2" stroke="#721c27" stroke-width="1.7"/><circle cx="399.06" cy="347.50" r="3.15" fill="#fbc9d2" stroke="#721c27" stroke-width="1.7"/><circle cx="408.36" cy="349.70" r="3.15" fill="#fbc9d2" stroke="#721c27" stroke-width="1.7"/><circle cx="417.66" cy="352.40" r="3.15" fill="#fbc9d2" stroke="#721c27" stroke-width="1.7"/><circle cx="426.95" cy="352.80" r="3.15" fill="#fbc9d2" stroke="#721c27" stroke-width="1.7"/><circle cx="436.25" cy="349.60" r="3.15" fill="#fbc9d2" stroke="#721c27" stroke-width="1.7"/><circle cx="445.55" cy="353.10" r="3.15" fill="#fbc9d2" stroke="#721c27" stroke-width="1.7"/><circle cx="454.85" cy="356.70" r="3.15" fill="#fbc9d2" stroke="#721c27" stroke-width="1.7"/><circle cx="464.15" cy="357.10" r="3.15" fill="#fbc9d2" stroke="#721c27" stroke-width="1.7"/><circle cx="473.45" cy="353.50" r="3.15" fill="#fbc9d2" stroke="#721c27" stroke-width="1.7"/><circle cx="482.75" cy="359.10" r="3.15" fill="#fbc9d2" stroke="#721c27" stroke-width="1.7"/><circle cx="492.05" cy="363.30" r="3.15" fill="#fbc9d2" stroke="#721c27" stroke-width="1.7"/><circle cx="501.35" cy="365.00" r="3.15" fill="#fbc9d2" stroke="#721c27" stroke-width="1.7"/><circle cx="510.64" cy="367.30" r="3.15" fill="#fbc9d2" stroke="#721c27" stroke-width="1.7"/><circle cx="519.94" cy="372.00" r="3.15" fill="#fbc9d2" stroke="#721c27" stroke-width="1.7"/><circle cx="529.24" cy="378.80" r="3.15" fill="#fbc9d2" stroke="#721c27" stroke-width="1.7"/><circle cx="538.54" cy="378.80" r="3.15" fill="#fbc9d2" stroke="#721c27" stroke-width="1.7"/><circle cx="547.84" cy="378.90" r="3.15" fill="#fbc9d2" stroke="#721c27" stroke-width="1.7"/><circle cx="557.14" cy="363.00" r="3.15" fill="#fbc9d2" stroke="#721c27" stroke-width="1.7"/><circle cx="566.44" cy="353.20" r="3.15" fill="#fbc9d2" stroke="#721c27" stroke-width="1.7"/><circle cx="575.74" cy="359.30" r="3.15" fill="#fbc9d2" stroke="#721c27" stroke-width="1.7"/><circle cx="585.03" cy="362.50" r="3.15" fill="#fbc9d2" stroke="#721c27" stroke-width="1.7"/><circle cx="594.33" cy="360.20" r="3.15" fill="#fbc9d2" stroke="#721c27" stroke-width="1.7"/><circle cx="603.63" cy="359.80" r="3.15" fill="#fbc9d2" stroke="#721c27" stroke-width="1.7"/><circle cx="612.93" cy="350.40" r="3.15" fill="#fbc9d2" stroke="#721c27" stroke-width="1.7"/><circle cx="622.23" cy="350.40" r="3.15" fill="#fbc9d2" stroke="#721c27" stroke-width="1.7"/><circle cx="631.53" cy="347.80" r="3.15" fill="#fbc9d2" stroke="#721c27" stroke-width="1.7"/><circle cx="640.83" cy="310.50" r="3.15" fill="#fbc9d2" stroke="#721c27" stroke-width="1.7"/><circle cx="650.13" cy="308.50" r="3.15" fill="#fbc9d2" stroke="#721c27" stroke-width="1.7"/><circle cx="659.43" cy="304.50" r="3.15" fill="#fbc9d2" stroke="#721c27" stroke-width="1.7"/><circle cx="668.72" cy="295.50" r="3.15" fill="#fbc9d2" stroke="#721c27" stroke-width="1.7"/><circle cx="678.02" cy="291.50" r="3.15" fill="#fbc9d2" stroke="#721c27" stroke-width="1.7"/><circle cx="687.32" cy="288.20" r="3.15" fill="#fbc9d2" stroke="#721c27" stroke-width="1.7"/><circle cx="696.62" cy="282.60" r="3.15" fill="#fbc9d2" stroke="#721c27" stroke-width="1.7"/><circle cx="705.92" cy="293.50" r="3.15" fill="#fbc9d2" stroke="#721c27" stroke-width="1.7"/><circle cx="715.22" cy="291.50" r="3.15" fill="#fbc9d2" stroke="#721c27" stroke-width="1.7"/><circle cx="724.52" cy="308.70" r="3.15" fill="#fbc9d2" stroke="#721c27" stroke-width="1.7"/><circle cx="733.82" cy="321.70" r="3.15" fill="#fbc9d2" stroke="#721c27" stroke-width="1.7"/><circle cx="743.12" cy="315.50" r="3.15" fill="#fbc9d2" stroke="#721c27" stroke-width="1.7"/><circle cx="752.41" cy="313.20" r="3.15" fill="#fbc9d2" stroke="#721c27" stroke-width="1.7"/><circle cx="761.71" cy="307.80" r="3.15" fill="#fbc9d2" stroke="#721c27" stroke-width="1.7"/><circle cx="771.01" cy="310.20" r="3.15" fill="#fbc9d2" stroke="#721c27" stroke-width="1.7"/><circle cx="780.31" cy="306.60" r="3.15" fill="#fbc9d2" stroke="#721c27" stroke-width="1.7"/><circle cx="789.61" cy="307.50" r="3.15" fill="#fbc9d2" stroke="#721c27" stroke-width="1.7"/><circle cx="798.91" cy="305.00" r="3.15" fill="#fbc9d2" stroke="#721c27" stroke-width="1.7"/><circle cx="808.21" cy="304.00" r="3.15" fill="#fbc9d2" stroke="#721c27" stroke-width="1.7"/><circle cx="817.51" cy="310.60" r="3.15" fill="#fbc9d2" stroke="#721c27" stroke-width="1.7"/><circle cx="826.80" cy="299.00" r="3.15" fill="#fbc9d2" stroke="#721c27" stroke-width="1.7"/><circle cx="836.10" cy="289.00" r="3.15" fill="#fbc9d2" stroke="#721c27" stroke-width="1.7"/><circle cx="845.40" cy="286.30" r="3.15" fill="#fbc9d2" stroke="#721c27" stroke-width="1.7"/><circle cx="854.70" cy="283.30" r="3.15" fill="#fbc9d2" stroke="#721c27" stroke-width="1.7"/><circle cx="864.00" cy="281.40" r="3.15" fill="#fbc9d2" stroke="#721c27" stroke-width="1.7"/>

</g>
<g font-family="Liberation Sans, sans-serif" font-weight="bold" font-size="13.9" fill="#4a4a4a">
<rect x="691" y="87.2" width="12.5" height="12.5" fill="#dbe6f2"/><rect x="692" y="88.2" width="10.5" height="10.5" fill="#2f6eb4"/>
<text x="706.3" y="97.9">Intel</text>
<rect x="737.8" y="87.2" width="12.5" height="12.5" fill="#e2e2e2"/><rect x="738.8" y="88.2" width="10.5" height="10.5" fill="#888888"/>
<text x="752.6" y="97.9">Apple</text>
<rect x="794.5" y="87.2" width="12.5" height="12.5" fill="#f2c8cb"/><rect x="795.5" y="88.2" width="10.5" height="10.5" fill="#c2161e"/>
<text x="809.6" y="97.9">AMD</text>
</g>
</svg>
</body></html>
